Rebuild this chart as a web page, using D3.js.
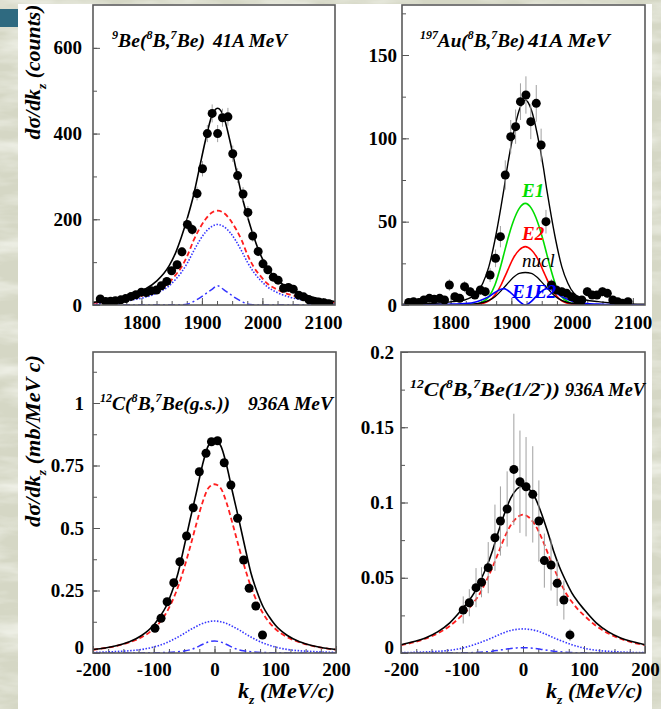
<!DOCTYPE html>
<html>
<head>
<meta charset="utf-8">
<script src="https://cdn.jsdelivr.net/npm/d3@7"></script>
<style>
  html, body { margin: 0; padding: 0; background: #d8dac8; }
  svg { display: block; }
  .axis .tick text { font-family: "Liberation Serif", "Times New Roman", serif; font-weight: bold; font-size: 19px; fill: #000; }
  .axis .tick line { stroke: #555; stroke-width: 1; }
</style>
</head>
<body>
<svg id="chart" width="661" height="709"></svg>
<script>
// ---- values ----

// 9Be(8B,7Be) 41A MeV : counts vs kz
const beX = [1732, 1741, 1749, 1757, 1766, 1774, 1783, 1791, 1800, 1808, 1816, 1825, 1833, 1842, 1850, 1859, 1867, 1876, 1884, 1892,
             1901, 1909, 1917, 1926, 1934, 1943, 1951, 1959, 1968, 1976, 1984, 1993, 2001, 2009, 2018, 2026, 2035, 2043, 2051, 2060,
             2068, 2077, 2085, 2093, 2102, 2110];
const beY = [14, 8, 9, 10, 12, 15, 20, 24, 30, 29, 33, 35, 45, 55, 80, 94, 124, 188, 176, 260,
             318, 400, 447, 400, 437, 439, 353, 302, 259, 216, 161, 125, 96, 82, 65, 58, 39, 41, 37, 23,
             19, 12, 9, 7, 5, 3];
const beErr = [4, 3, 3, 3, 3, 4, 4, 5, 5, 5, 6, 6, 7, 7, 9, 10, 11, 14, 13, 16,
               18, 20, 21, 20, 21, 21, 19, 17, 16, 15, 13, 11, 10, 9, 8, 8, 6, 6, 6, 5,
               4, 4, 3, 3, 2, 2];
const beCurveX = [1720, 1746, 1766, 1786, 1806, 1826, 1846, 1856, 1866, 1876, 1886, 1896, 1906, 1916, 1926,
                  1936, 1946, 1956, 1966, 1976, 1986, 1996, 2006, 2026, 2046, 2066, 2086, 2106, 2120];
const beTotal   = [6, 11, 17, 26, 37, 57, 92, 120, 158, 203, 255, 320, 385, 440, 459,
                   440, 385, 320, 255, 203, 158, 120, 92, 57, 37, 26, 17, 11, 8];
const beDashed  = [5, 8, 12, 17, 24, 35, 53, 69, 88, 115, 150, 178, 200, 215, 220,
                   215, 200, 178, 150, 115, 88, 69, 53, 35, 24, 17, 12, 8, 6];
const beDotted  = [3, 5, 8, 12, 18, 28, 45, 59, 76, 98, 125, 150, 170, 183, 188,
                   183, 170, 150, 125, 98, 76, 59, 45, 28, 18, 12, 8, 5, 4];
const beDashDot = [0, 0, 0, 0, 0, 0, 0, 0, 0.5, 2, 8, 16, 26, 36, 45,
                   36, 26, 16, 8, 2, 0.5, 0, 0, 0, 0, 0, 0, 0, 0];

// 197Au(8B,7Be) 41A MeV
const auX = [1731, 1739, 1748, 1756, 1765, 1773, 1782, 1790, 1798, 1807, 1815, 1823, 1832, 1840, 1849, 1857, 1865, 1874, 1882, 1890,
             1899, 1907, 1915, 1924, 1932, 1941, 1949, 1957, 1966, 1974, 1983, 1991, 1999, 2008, 2016, 2025, 2033, 2041, 2050, 2058,
             2067, 2075, 2083, 2092];
const auY = [1.5, 2, 1.5, 3, 4, 3.5, 4, 3, 12, 5, 4, 11, 8, 6, 9, 8, 18, 28, 41, 78,
             101, 107, 122, 126, 110, 121, 96, 50, 12, 9, 8, 7, 5, 3, 3, 8, 6, 6, 8, 7,
             3, 2, 1, 2];
const auErr = [1.2, 1.4, 1.2, 1.7, 2, 1.9, 2, 1.7, 3.5, 2.2, 2, 3.3, 2.8, 2.4, 3, 2.8, 4.2, 5.3, 6.4, 8.8,
               10, 10.3, 11, 11.2, 10.5, 11, 9.8, 7.1, 3.5, 3, 2.8, 2.6, 2.2, 1.7, 1.7, 2.8, 2.4, 2.4, 2.8, 2.6,
               1.7, 1.4, 1, 1.4];
const auCurveX = [1720, 1763, 1783, 1803, 1823, 1843, 1853, 1863, 1873, 1883, 1888, 1893, 1903, 1913, 1923,
                  1933, 1943, 1953, 1958, 1963, 1973, 1983, 1993, 2003, 2023, 2043, 2063, 2083, 2120];
const auTotal = [0.5, 0.8, 1.2, 2, 3, 7, 13, 23, 39, 59, 70, 82, 102, 117, 123,
                 117, 102, 82, 70, 59, 39, 23, 13, 7, 3, 2, 1.2, 0.8, 0.5];
const auE1    = [0, 0, 0, 0, 0, 0.5, 2, 5, 12, 24, 31, 38, 50, 58, 61,
                 58, 50, 38, 31, 24, 12, 5, 2, 0.5, 0, 0, 0, 0, 0];
const auE2    = [0, 0, 0, 0, 0, 0.3, 1, 2.5, 6, 12, 16, 20, 28, 33, 35,
                 33, 28, 20, 16, 12, 6, 2.5, 1, 0.3, 0, 0, 0, 0, 0];
const auNucl  = [0, 0, 0, 0, 0.2, 0.8, 1.5, 2.8, 5, 8.5, 10.5, 12.5, 16.5, 19, 19.5,
                 19, 16.5, 12.5, 10.5, 8.5, 5, 2.8, 1.5, 0.8, 0.2, 0, 0, 0, 0];
const auE1E2  = [0, 0.1, 0.2, 0.5, 0.8, 2, 3.3, 5, 7.5, 9.5, 9.8, 9, 6, 2.2, 0,
                 2.2, 6, 9, 9.8, 9.5, 7.5, 5, 3.3, 2, 0.8, 0.5, 0.2, 0.1, 0];

// 12C(8B,7Be) 936A MeV, shared kz grid for the curves
const kzGrid = [-200, -180, -160, -140, -120, -100, -90, -80, -70, -60, -50, -40, -30, -20, -10, 0,
                10, 20, 30, 40, 50, 60, 70, 80, 90, 100, 120, 140, 160, 180, 200];

const gsX = [-98, -88, -78, -67, -57, -46, -35, -25, -14, -5, 5, 16, 27, 38, 48, 57, 68, 79];
const gsY = [0.099, 0.139, 0.205, 0.281, 0.365, 0.468, 0.581, 0.725, 0.799, 0.845, 0.849, 0.761, 0.672, 0.539, 0.372, 0.259, 0.188, 0.072];
const gsTotal   = [0.014, 0.02, 0.03, 0.045, 0.07, 0.112, 0.145, 0.185, 0.245, 0.32, 0.425, 0.535, 0.64, 0.75, 0.83, 0.85,
                   0.83, 0.75, 0.64, 0.535, 0.425, 0.32, 0.245, 0.185, 0.145, 0.112, 0.07, 0.045, 0.03, 0.02, 0.014];
const gsDashed  = [0.013, 0.02, 0.029, 0.043, 0.063, 0.097, 0.123, 0.158, 0.205, 0.265, 0.34, 0.425, 0.515, 0.6, 0.66, 0.675,
                   0.66, 0.6, 0.515, 0.425, 0.34, 0.265, 0.205, 0.158, 0.123, 0.097, 0.063, 0.043, 0.029, 0.02, 0.013];
const gsDotted  = [0.002, 0.004, 0.006, 0.009, 0.014, 0.024, 0.031, 0.04, 0.051, 0.064, 0.078, 0.093, 0.106, 0.118, 0.125, 0.128,
                   0.125, 0.118, 0.106, 0.093, 0.078, 0.064, 0.051, 0.04, 0.031, 0.024, 0.014, 0.009, 0.006, 0.004, 0.002];
const gsDashDot = [0, 0, 0, 0, 0.0005, 0.001, 0.0015, 0.002, 0.003, 0.005, 0.008, 0.013, 0.022, 0.034, 0.044, 0.048,
                   0.044, 0.034, 0.022, 0.013, 0.008, 0.005, 0.003, 0.002, 0.0015, 0.001, 0.0005, 0, 0, 0, 0];

const exX = [-98, -88, -77, -68, -57, -46, -37, -26, -15, -5, 5, 16, 26, 35, 46, 56, 67, 77];
const exY = [0.0286, 0.0334, 0.0434, 0.047, 0.0567, 0.0766, 0.0877, 0.0957, 0.122, 0.1138, 0.1105, 0.1054, 0.0877, 0.0614, 0.0585, 0.0463, 0.0352, 0.012];
const exErr = [0.009, 0.009, 0.013, 0.01, 0.017, 0.022, 0.023, 0.025, 0.037, 0.034, 0.033, 0.032, 0.027, 0.018, 0.017, 0.015, 0.013, 0.004];
const exTotal   = [0.0055, 0.0075, 0.01, 0.014, 0.02, 0.029, 0.034, 0.04, 0.048, 0.057, 0.068, 0.081, 0.093, 0.103, 0.109, 0.111,
                   0.109, 0.103, 0.093, 0.081, 0.068, 0.057, 0.048, 0.04, 0.034, 0.029, 0.02, 0.014, 0.01, 0.0075, 0.0055];
const exDashed  = [0.0052, 0.007, 0.0095, 0.013, 0.018, 0.025, 0.029, 0.034, 0.04, 0.048, 0.057, 0.067, 0.077, 0.085, 0.09, 0.092,
                   0.09, 0.085, 0.077, 0.067, 0.057, 0.048, 0.04, 0.034, 0.029, 0.025, 0.018, 0.013, 0.0095, 0.007, 0.0052];
const exDotted  = [0.0002, 0.0004, 0.0007, 0.0011, 0.0018, 0.0032, 0.0043, 0.0055, 0.007, 0.0085, 0.0102, 0.012, 0.0137, 0.015, 0.0157, 0.016,
                   0.0157, 0.015, 0.0137, 0.012, 0.0102, 0.0085, 0.007, 0.0055, 0.0043, 0.0032, 0.0018, 0.0011, 0.0007, 0.0004, 0.0002];
const exDashDot = [0, 0, 0, 0, 0, 0.0001, 0.0002, 0.0003, 0.0005, 0.0008, 0.0012, 0.0018, 0.0024, 0.003, 0.0034, 0.0035,
                   0.0034, 0.003, 0.0024, 0.0018, 0.0012, 0.0008, 0.0005, 0.0003, 0.0002, 0.0001, 0, 0, 0, 0, 0];

// tick labels
const momTicks = [1800, 1900, 2000, 2100];
const kzTicks = [-200, -100, 0, 100, 200];
const beYTicks = [0, 200, 400, 600];
const auYTicks = [0, 50, 100, 150];
const gsYTicks = [0, 0.25, 0.5, 0.75, 1];
const exYTicks = [0, 0.05, 0.1, 0.15, 0.2];

// ---- drawing ----
const serif = '"Liberation Serif", "Times New Roman", serif';
const svg = d3.select("#chart");

// marbled backdrop and the white sheet
const defs = svg.append("defs");
const marble = defs.append("filter").attr("id", "marble").attr("x", 0).attr("y", 0).attr("width", 1).attr("height", 1);
marble.append("feTurbulence").attr("type", "fractalNoise").attr("baseFrequency", "0.012 0.05").attr("numOctaves", 4).attr("seed", 7);
marble.append("feColorMatrix").attr("type", "matrix")
  .attr("values", "0 0 0 0 0.94  0 0 0 0 0.95  0 0 0 0 0.9  1.8 0 0 0 -0.75");
svg.append("rect").attr("width", 661).attr("height", 709).attr("fill", "#d5d7c5");
svg.append("rect").attr("width", 661).attr("height", 709).attr("filter", "url(#marble)");
svg.append("rect").attr("x", 18).attr("y", 4).attr("width", 634).attr("height", 705).attr("fill", "#fff");
svg.append("rect").attr("x", 0).attr("y", 9).attr("width", 18).attr("height", 18).attr("fill", "#2f6a80");

const black = { color: "#000", width: 1.6 };
const redDash = { color: "#ff1f1f", width: 1.8, dash: "5,3" };
const blueDot = { color: "#3535ff", width: 1.6, dash: "1.5,1.6" };
const blueDashDot = { color: "#3535ff", width: 1.5, dash: "7,3,2,3" };

const panels = [
  { left: 93, right: 335, top: 5, bottom: 305, xDomain: [1720, 2120], yDomain: [0, 700],
    xTicks: momTicks, xMinor: d3.range(1725, 2120, 25), xPad: 11,
    yTicks: beYTicks, yMinor: d3.range(100, 700, 100), yPad: 11, zeroDy: "0.32em",
    curves: [
      { x: beCurveX, y: beDotted, ...blueDot },
      { x: beCurveX, y: beDashDot, ...blueDashDot },
      { x: beCurveX, y: beDashed, ...redDash },
      { x: beCurveX, y: beTotal, ...black }
    ],
    pts: { x: beX, y: beY, err: beErr } },
  { left: 402, right: 645, top: 5, bottom: 305, xDomain: [1720, 2120], yDomain: [0, 180],
    xTicks: momTicks, xMinor: d3.range(1725, 2120, 25), xPad: 11,
    yTicks: auYTicks, yMinor: d3.range(25, 180, 25), yPad: 5, zeroDy: "0.32em",
    curves: [
      { x: auCurveX, y: auTotal, color: "#000", width: 1.4 },
      { x: auCurveX, y: auE1, color: "#00dd00", width: 1.6 },
      { x: auCurveX, y: auE2, color: "#ff0000", width: 1.6 },
      { x: auCurveX, y: auNucl, color: "#000", width: 1.3 },
      { x: auCurveX, y: auE1E2, color: "#0000ff", width: 1.6 }
    ],
    pts: { x: auX, y: auY, err: auErr } },
  { left: 93, right: 336, top: 352, bottom: 653, xDomain: [-200, 200], yDomain: [0, 1.204],
    xTicks: kzTicks, xMinor: d3.range(-200, 201, 25), xPad: 9.5,
    yTicks: gsYTicks, yMinor: d3.range(0.125, 1.2, 0.125), yPad: 9, zeroDy: "0.05em",
    curves: [
      { x: kzGrid, y: gsDotted, ...blueDot },
      { x: kzGrid, y: gsDashDot, ...blueDashDot },
      { x: kzGrid, y: gsDashed, ...redDash },
      { x: kzGrid, y: gsTotal, ...black }
    ],
    pts: { x: gsX, y: gsY } },
  { left: 401, right: 645, top: 352, bottom: 653, xDomain: [-200, 200], yDomain: [0, 0.2],
    xTicks: kzTicks, xMinor: d3.range(-200, 201, 25), xPad: 9.5,
    yTicks: exYTicks, yMinor: d3.range(0.025, 0.2, 0.025), yPad: 7, zeroDy: "0.05em",
    curves: [
      { x: kzGrid, y: exDotted, ...blueDot },
      { x: kzGrid, y: exDashDot, ...blueDashDot },
      { x: kzGrid, y: exDashed, ...redDash },
      { x: kzGrid, y: exTotal, ...black }
    ],
    pts: { x: exX, y: exY, err: exErr } }
];

panels.forEach((p, i) => {
  const x = d3.scaleLinear().domain(p.xDomain).range([p.left, p.right]);
  const y = d3.scaleLinear().domain(p.yDomain).range([p.bottom, p.top]);
  const g = svg.append("g");

  defs.append("clipPath").attr("id", "clip" + i)
    .append("rect").attr("x", p.left).attr("y", p.top)
    .attr("width", p.right - p.left).attr("height", p.bottom - p.top);

  // ticks point inwards, ROOT style
  const axis = (a, tr) => g.append("g").attr("class", "axis").attr("transform", tr).call(a)
    .attr("font-family", serif).attr("font-size", 19);
  axis(d3.axisBottom(x).tickValues(p.xMinor).tickSize(-4).tickFormat(""), `translate(0,${p.bottom})`);
  axis(d3.axisBottom(x).tickValues(p.xTicks).tickSize(-7).tickPadding(p.xPad).tickFormat(String), `translate(0,${p.bottom})`);
  axis(d3.axisLeft(y).tickValues(p.yMinor).tickSize(-4).tickFormat(""), `translate(${p.left},0)`);
  const yAx = axis(d3.axisLeft(y).tickValues(p.yTicks).tickSize(-7).tickPadding(p.yPad).tickFormat(String), `translate(${p.left},0)`);
  // keep the zero label clear of the first x label
  yAx.selectAll(".tick text").filter(d => d === 0).attr("dy", p.zeroDy);
  g.selectAll(".domain").remove();

  const plot = g.append("g").attr("clip-path", `url(#clip${i})`);

  p.curves.forEach(c => {
    const line = d3.line()
      .x((d, j) => x(c.x[j]))
      .y(d => y(d))
      .curve(d3.curveMonotoneX);
    plot.append("path").datum(c.y)
      .attr("d", line)
      .attr("fill", "none")
      .attr("stroke", c.color)
      .attr("stroke-width", c.width)
      .attr("stroke-dasharray", c.dash || null);
  });

  if (p.pts.err) {
    plot.selectAll(".err").data(p.pts.y).enter().append("line")
      .attr("x1", (d, j) => x(p.pts.x[j]))
      .attr("x2", (d, j) => x(p.pts.x[j]))
      .attr("y1", (d, j) => y(d - p.pts.err[j]))
      .attr("y2", (d, j) => y(d + p.pts.err[j]))
      .attr("stroke", "#a0a0a0")
      .attr("stroke-width", 1);
  }

  plot.selectAll(".pt").data(p.pts.y).enter().append("circle")
    .attr("cx", (d, j) => x(p.pts.x[j]))
    .attr("cy", d => y(d))
    .attr("r", 4.5)
    .attr("fill", "#000");

  g.append("rect")
    .attr("x", p.left).attr("y", p.top)
    .attr("width", p.right - p.left).attr("height", p.bottom - p.top)
    .attr("fill", "none").attr("stroke", "#5a5a5a").attr("stroke-width", 1.6);
});

// text with super/subscripts; optional fit stretches it to the measured width
function richText(parent, x, y, parts, size, opts = {}) {
  const t = parent.append("text")
    .attr("x", x).attr("y", y)
    .attr("font-family", serif)
    .attr("font-style", "italic")
    .attr("font-weight", opts.weight || "bold")
    .attr("font-size", size)
    .attr("fill", opts.color || "#000")
    .attr("text-anchor", opts.anchor || "start");
  let shift = 0;
  parts.forEach(([s, kind]) => {
    const target = kind === "sup" ? -0.42 * size : kind === "sub" ? 0.3 * size : 0;
    t.append("tspan")
      .attr("dy", target - shift)
      .attr("font-size", kind ? size * 0.62 : size)
      .text(s);
    shift = target;
  });
  if (opts.fit) t.attr("textLength", opts.fit).attr("lengthAdjust", "spacingAndGlyphs");
  return t;
}

// panel titles
richText(svg, 112, 47, [["9", "sup"], ["Be(", ""], ["8", "sup"], ["B,", ""], ["7", "sup"], ["Be)", ""]], 19, { fit: 93 });
richText(svg, 213, 47, [["41A MeV", ""]], 19, { fit: 74 });
richText(svg, 420, 47, [["197", "sup"], ["Au(", ""], ["8", "sup"], ["B,", ""], ["7", "sup"], ["Be)", ""]], 19, { fit: 105 });
richText(svg, 528, 47, [["41A MeV", ""]], 19, { fit: 82 });
richText(svg, 100, 410, [["12", "sup"], ["C(", ""], ["8", "sup"], ["B,", ""], ["7", "sup"], ["Be(g.s.))", ""]], 19, { fit: 130 });
richText(svg, 248, 410, [["936A MeV", ""]], 19, { fit: 85 });
richText(svg, 410, 396, [["12", "sup"], ["C(", ""], ["8", "sup"], ["B,", ""], ["7", "sup"], ["Be(1/2", ""], ["-", "sup"], ["))", ""]], 19, { fit: 150 });
richText(svg, 565, 396, [["936A MeV", ""]], 19, { fit: 80 });

// component labels in the Au panel
richText(svg, 522, 197, [["E1", ""]], 19, { color: "#00dd00" });
richText(svg, 522, 240, [["E2", ""]], 19, { color: "#ff0000" });
richText(svg, 522, 267, [["nucl", ""]], 19, { weight: "normal" });
richText(svg, 512, 298, [["E1E2", ""]], 19, { color: "#0000ff" });

// axis titles
const yt1 = svg.append("g").attr("transform", "translate(40,72) rotate(-90)");
richText(yt1, 0, 0, [["d\u03c3/dk", ""], ["z", "sub"], [" (counts)", ""]], 20, { anchor: "middle", fit: 135 });
const yt2 = svg.append("g").attr("transform", "translate(40,441) rotate(-90)");
richText(yt2, 0, 0, [["d\u03c3/dk", ""], ["z", "sub"], [" (mb/MeV c)", ""]], 20, { anchor: "middle", fit: 172 });
richText(svg, 335, 698, [["k", ""], ["z", "sub"], [" (MeV/c)", ""]], 20, { anchor: "end", fit: 97 });
richText(svg, 643, 698, [["k", ""], ["z", "sub"], [" (MeV/c)", ""]], 20, { anchor: "end", fit: 97 });
</script>
</body>
</html>
